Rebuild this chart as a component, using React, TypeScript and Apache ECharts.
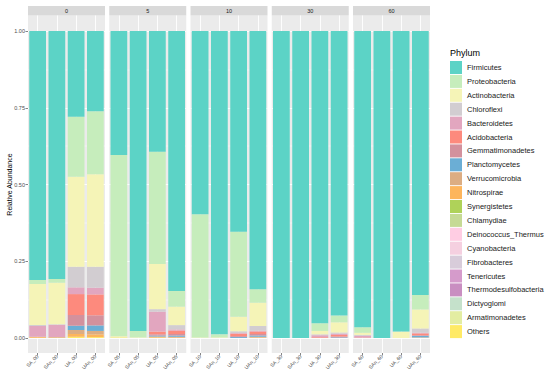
import React, { useEffect, useRef } from "react";
import * as echarts from "echarts";

const facets = ["0", "5", "10", "30", "60"];
const facetCodes = ["00", "05", "10", "30", "60"];
const sampleTypes = ["SA", "SAn", "UA", "UAn"];
const yTicks = [0, 0.25, 0.5, 0.75, 1];

const phyla = [
  "Firmicutes", "Proteobacteria", "Actinobacteria", "Chloroflexi", "Bacteroidetes",
  "Acidobacteria", "Gemmatimonadetes", "Planctomycetes", "Verrucomicrobia", "Nitrospirae",
  "Synergistetes", "Chlamydiae", "Deinococcus_Thermus", "Cyanobacteria", "Fibrobacteres",
  "Tenericutes", "Thermodesulfobacteria", "Dictyoglomi", "Armatimonadetes", "Others",
];

const phylumColors = [
  "#5CD3C6", "#C6EDBC", "#F5F4B7", "#D2CDD1", "#E2A6BF",
  "#FD8A7D", "#D3919D", "#6BAED5", "#DCAD82", "#FDB55C",
  "#AFD259", "#C6DA95", "#FFCDE3", "#F5D0E0", "#D8CCDA",
  "#D59BCB", "#C98EC1", "#C5E1CB", "#E3EDA2", "#FFEA66",
];

// sample order: SA_00, SAn_00, UA_00, UAn_00, SA_05, ... UAn_60
const firmicutes = [0.811, 0.808, 0.279, 0.261, 0.404, 0.977, 0.393, 0.847, 0.597, 0.988, 0.654, 0.841, 1.0, 1.0, 0.952, 0.927, 0.965, 1.0, 0.979, 0.86];
const proteobacteria = [0.013, 0.012, 0.196, 0.206, 0.59, 0.021, 0.366, 0.051, 0.401, 0.01, 0.277, 0.044, 0, 0, 0.025, 0.022, 0.018, 0, 0.001, 0.047];
const actinobacteria = [0.134, 0.135, 0.293, 0.301, 0.004, 0.002, 0.147, 0.06, 0.002, 0.002, 0.047, 0.076, 0, 0, 0.011, 0.033, 0.007, 0, 0.02, 0.062];
const chloroflexi = [0.003, 0.002, 0.067, 0.068, 0, 0, 0.008, 0.014, 0, 0, 0.006, 0.015, 0, 0, 0.003, 0.004, 0.003, 0, 0, 0.014];
const bacteroidetes = [0.035, 0.04, 0.022, 0.022, 0, 0, 0.065, 0.004, 0, 0, 0.002, 0.003, 0, 0, 0.006, 0.004, 0.005, 0, 0, 0.002];
const acidobacteria = [0, 0, 0.068, 0.068, 0, 0, 0.009, 0.011, 0, 0, 0.008, 0.008, 0, 0, 0.002, 0.005, 0.001, 0, 0, 0.006];
const gemmatimonadetes = [0, 0, 0.035, 0.033, 0, 0, 0.004, 0.005, 0, 0, 0.003, 0.005, 0, 0, 0.001, 0.003, 0.001, 0, 0, 0.002];
const planctomycetes = [0, 0, 0.014, 0.018, 0, 0, 0.003, 0.004, 0, 0, 0.003, 0.004, 0, 0, 0, 0.002, 0, 0, 0, 0.005];
const verrucomicrobia = [0.001, 0.001, 0.013, 0.011, 0, 0, 0.002, 0.002, 0, 0, 0, 0.002, 0, 0, 0, 0, 0, 0, 0, 0.001];
const nitrospirae = [0.002, 0.002, 0.009, 0.009, 0, 0, 0.002, 0.002, 0, 0, 0, 0.002, 0, 0, 0, 0, 0, 0, 0, 0.001];
const synergistetes = [0, 0, 0, 0, 0, 0, 0, 0, 0, 0, 0, 0, 0, 0, 0, 0, 0, 0, 0, 0];
const chlamydiae = [0, 0, 0, 0, 0, 0, 0, 0, 0, 0, 0, 0, 0, 0, 0, 0, 0, 0, 0, 0];
const deinococcus = [0, 0, 0, 0, 0, 0, 0, 0, 0, 0, 0, 0, 0, 0, 0, 0, 0, 0, 0, 0];
const cyanobacteria = [0, 0, 0, 0, 0, 0, 0, 0, 0, 0, 0, 0, 0, 0, 0, 0, 0, 0, 0, 0];
const fibrobacteres = [0, 0, 0, 0, 0, 0, 0, 0, 0, 0, 0, 0, 0, 0, 0, 0, 0, 0, 0, 0];
const tenericutes = [0, 0, 0, 0, 0, 0, 0, 0, 0, 0, 0, 0, 0, 0, 0, 0, 0, 0, 0, 0];
const thermodesulfobacteria = [0, 0, 0, 0, 0, 0, 0, 0, 0, 0, 0, 0, 0, 0, 0, 0, 0, 0, 0, 0];
const dictyoglomi = [0, 0, 0, 0, 0, 0, 0, 0, 0, 0, 0, 0, 0, 0, 0, 0, 0, 0, 0, 0];
const armatimonadetes = [0, 0, 0, 0, 0, 0, 0, 0, 0, 0, 0, 0, 0, 0, 0, 0, 0, 0, 0, 0];
const others = [0.001, 0, 0.004, 0.003, 0.002, 0, 0.001, 0, 0, 0, 0, 0, 0, 0, 0, 0, 0, 0, 0, 0];

const phylumValues = [
  firmicutes, proteobacteria, actinobacteria, chloroflexi, bacteroidetes,
  acidobacteria, gemmatimonadetes, planctomycetes, verrucomicrobia, nitrospirae,
  synergistetes, chlamydiae, deinococcus, cyanobacteria, fibrobacteres,
  tenericutes, thermodesulfobacteria, dictyoglomi, armatimonadetes, others,
];

const FONT = "'Liberation Sans', Arial, sans-serif";

export default function App() {
  const ref = useRef<HTMLDivElement>(null);
  useEffect(() => {
    if (!ref.current) return;
    const chart = echarts.init(ref.current, null, { renderer: "svg" });
    const n = facets.length;
    const panelLeft = 28;
    const panelStep = 81.25;
    const panelW = 77;
    const grids: any[] = [];
    const xAxes: any[] = [];
    const yAxes: any[] = [];
    const series: any[] = [];
    const graphics: any[] = [];

    for (let f = 0; f < n; f++) {
      const left = panelLeft + f * panelStep;
      grids.push({ left, top: 31, width: panelW, height: 307, show: false });
    }
    for (let f = 0; f < n; f++) {
      const left = panelLeft + f * panelStep;
      grids.push({ left, top: 15.5, width: panelW, height: 337.5, show: true, backgroundColor: "#EBEBEB", borderWidth: 0 });
      graphics.push({
        type: "rect", left, top: 6, shape: { width: panelW, height: 9.5 },
        style: { fill: "#D9D9D9" }, z: 0,
      });
      graphics.push({
        type: "text", x: left + panelW / 2, y: 10.8,
        style: { text: facets[f], fill: "#1A1A1A", font: `5.5px ${FONT}`, textAlign: "center", textVerticalAlign: "middle" },
      });
    }

    for (let f = 0; f < n; f++) {
      const cats = sampleTypes.map((s) => `${s}_${facetCodes[f]}`);
      xAxes.push({ type: "category", gridIndex: f, data: cats, show: false });
      yAxes.push({
        type: "value", gridIndex: f, min: 0, max: 1, interval: 0.25,
        axisLine: { show: false },
        axisTick: { show: f === 0, length: 2.5, lineStyle: { color: "#333333", width: 0.6 } },
        axisLabel: {
          show: f === 0, fontSize: 5.5, color: "#4D4D4D", margin: 3, fontFamily: FONT,
          formatter: (v: number) => (yTicks.indexOf(v) >= 0 ? v.toFixed(2) : ""),
        },
        splitLine: { show: true, lineStyle: { color: "#FFFFFF", width: 0.9 } },
        minorTick: { show: false, splitNumber: 2 },
        minorSplitLine: { show: true, lineStyle: { color: "#FFFFFF", width: 0.45 } },
        name: f === 0 ? "Relative Abundance" : "",
        nameLocation: "middle",
        nameGap: 15,
        nameMoveOverlap: false,
        nameTextStyle: { fontSize: 7, color: "#000000", fontFamily: FONT },
      });
    }
    for (let f = 0; f < n; f++) {
      const cats = sampleTypes.map((s) => `${s}_${facetCodes[f]}`);
      xAxes.push({
        type: "category", gridIndex: n + f, data: cats, position: "bottom",
        axisLine: { show: false },
        axisTick: { show: true, alignWithLabel: true, length: 2.5, lineStyle: { color: "#333333", width: 0.6 } },
        axisLabel: { rotate: 45, fontSize: 5, color: "#4D4D4D", margin: 2.5, fontFamily: FONT, interval: 0 },
        splitLine: { show: true, alignWithLabel: true, interval: 0, lineStyle: { color: "#FFFFFF", width: 0.9 } },
      });
      yAxes.push({ type: "value", gridIndex: n + f, min: 0, max: 1, show: false });
    }

    for (let f = 0; f < n; f++) {
      for (let p = phyla.length - 1; p >= 0; p--) {
        series.push({
          type: "bar",
          name: phyla[p],
          xAxisIndex: f,
          yAxisIndex: f,
          stack: "facet" + f,
          barCategoryGap: "13%",
          data: phylumValues[p].slice(f * 4, f * 4 + 4),
          itemStyle: { color: phylumColors[p] },
          emphasis: { disabled: true },
        });
      }
    }

    chart.setOption({
      animation: false,
      backgroundColor: "#FFFFFF",
      textStyle: { fontFamily: FONT },
      title: {
        text: "Phylum", left: 450, top: 48, padding: 0,
        textStyle: { fontSize: 9, fontWeight: "normal", color: "#000000", fontFamily: FONT },
      },
      legend: {
        data: phyla.map((name, i) => ({ name, itemStyle: { color: phylumColors[i] } })),
        orient: "vertical",
        left: 450,
        top: 61,
        padding: 0,
        itemWidth: 12,
        itemHeight: 13,
        itemGap: 0.9,
        icon: "rect",
        selectedMode: false,
        textStyle: { fontSize: 7.5, color: "#1A1A1A", fontFamily: FONT },
      },
      grid: grids,
      xAxis: xAxes,
      yAxis: yAxes,
      series,
      graphic: graphics,
    });
    return () => chart.dispose();
  }, []);
  return <div ref={ref} style={{ position: "fixed", left: 0, top: 0, width: 550, height: 380 }} />;
}
